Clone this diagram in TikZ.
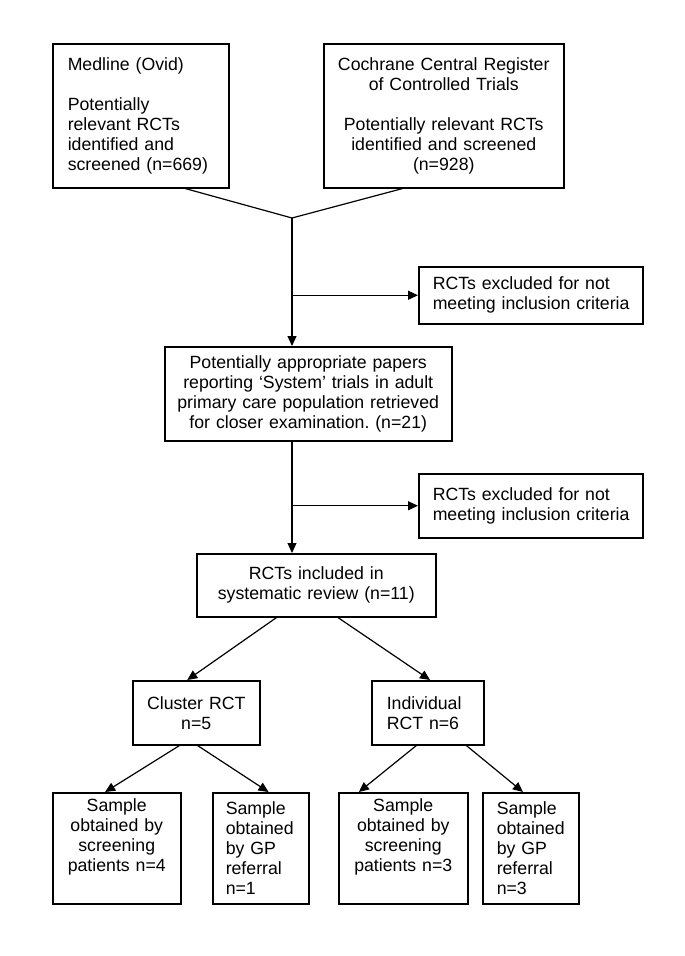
\documentclass[tikz,border=0pt]{standalone}
\usepackage{fontspec}
\setmainfont{Liberation Sans}
\usetikzlibrary{arrows.meta,calc}
\frenchspacing
\hyphenpenalty=10000

\tikzset{
  box/.style={draw, line width=1.5pt, anchor=north west, inner ysep=0pt,
    font=\fontsize{17.7}{20}\selectfont},
  arr/.style={line width=1.2pt, -{Triangle[length=10pt,width=9pt]}},
  link/.style={line width=1.2pt}
}

\begin{document}
\begin{tikzpicture}[x=1pt,y=-1pt]
\useasboundingbox (0,0) rectangle (685,956);

%sources
\node[box, inner xsep=15pt, minimum width=176pt, minimum height=144pt, text width=146pt, align=left] (medline) at (52,43)
  {Medline (Ovid)\\[20pt]Potentially\\relevant RCTs\\identified and\\screened (n=669)};
\node[box, inner xsep=4pt, minimum width=240pt, minimum height=144pt, text width=232pt, align=center] (cochrane) at (323,43)
  {Cochrane Central Register\\of Controlled Trials\\[20pt]Potentially relevant RCTs\\identified and screened\\(n=928)};

%screening and exclusions
\node[box, inner xsep=4pt, minimum width=287pt, minimum height=94pt, text width=279pt, align=center] (screen) at (164,346)
  {Potentially appropriate papers\\reporting ‘System’ trials in adult\\primary care population retrieved\\for closer examination. (n=21)};
\node[box, inner xsep=14pt, minimum width=224pt, minimum height=57pt, text width=196pt, align=left] (excl1) at (418,266)
  {RCTs excluded for not\\\mbox{meeting inclusion criteria}};
\node[box, inner xsep=14pt, minimum width=224pt, minimum height=64pt, text width=196pt, align=left] (excl2) at (418,473)
  {RCTs excluded for not\\\mbox{meeting inclusion criteria}};
\node[box, inner xsep=4pt, minimum width=239pt, minimum height=63pt, text width=231pt, align=center] (incl) at (196,553)
  {RCTs included in\\systematic review (n=11)};

%trial types
\node[box, inner xsep=4pt, minimum width=127pt, minimum height=64pt, text width=119pt, align=center] (cluster) at (132,680)
  {Cluster RCT\\n=5};
\node[box, inner xsep=15pt, minimum width=112pt, minimum height=64pt, text width=82pt, align=left] (indiv) at (371,680)
  {Individual\\RCT n=6};

%samples
\node[box, inner xsep=4pt, minimum width=128pt, minimum height=111pt, text width=120pt, align=center] (clscreen) at (52,792)
  {Sample\\obtained by\\screening\\patients n=4\\\strut};
\node[box, inner xsep=13pt, minimum width=96pt, minimum height=111pt, text width=70pt, align=left] (clgp) at (212,792)
  {Sample\\obtained\\by GP\\referral\\n=1};
\node[box, inner xsep=4pt, minimum width=129pt, minimum height=111pt, text width=121pt, align=center] (inscreen) at (338,792)
  {Sample\\obtained by\\screening\\patients n=3\\\strut};
\node[box, inner xsep=14pt, minimum width=96pt, minimum height=111pt, text width=68pt, align=left] (ingp) at (482,792)
  {Sample\\obtained\\by GP\\referral\\n=3};

%merge the two sources
\coordinate (join) at (292,218);
\draw[link] ($(medline.south west)!0.75!(medline.south east)$) -- (join);
\draw[link] ($(cochrane.south west)!0.33!(cochrane.south east)$) -- (join);
\draw[arr] (join) -- (join |- screen.north);
\draw[arr] (join |- excl1.west) -- (excl1.west);

\draw[arr] (join |- screen.south) -- (join |- incl.north);
\draw[arr] (join |- excl2.west) -- (excl2.west);

%split into trial types
\draw[arr] ($(incl.south west)!0.335!(incl.south east)$) -- ($(cluster.north west)!0.43!(cluster.north east)$);
\draw[arr] ($(incl.south west)!0.59!(incl.south east)$) -- ($(indiv.north west)!0.52!(indiv.north east)$);

\draw[arr] ($(cluster.south west)!0.37!(cluster.south east)$) -- ($(clscreen.north west)!0.41!(clscreen.north east)$);
\draw[arr] ($(cluster.south west)!0.51!(cluster.south east)$) -- ($(clgp.north west)!0.58!(clgp.north east)$);
\draw[arr] ($(indiv.south west)!0.40!(indiv.south east)$) -- ($(inscreen.north west)!0.16!(inscreen.north east)$);
\draw[arr] ($(indiv.south west)!0.84!(indiv.south east)$) -- ($(ingp.north west)!0.42!(ingp.north east)$);
\end{tikzpicture}
\end{document}
